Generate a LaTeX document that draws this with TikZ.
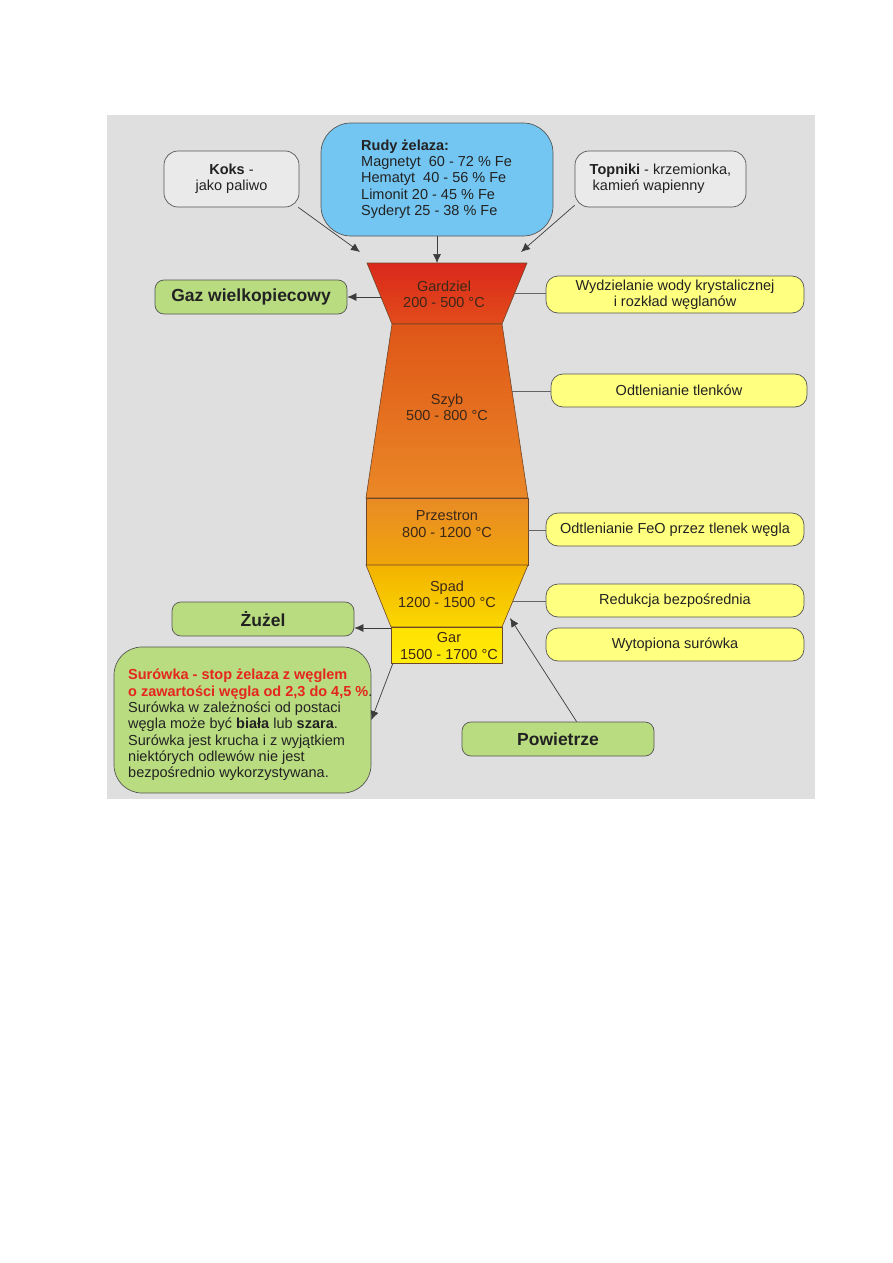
\documentclass[tikz,border=0pt]{standalone}
\usepackage{fontspec}
\setmainfont{Liberation Sans}
\usetikzlibrary{arrows.meta,calc}
\definecolor{bgc}{RGB}{223,223,223}
\definecolor{graybox}{RGB}{234,234,234}
\definecolor{bordc}{RGB}{85,85,85}
\definecolor{bluebox}{RGB}{116,198,242}
\definecolor{greenbox}{RGB}{185,220,128}
\definecolor{yellowbox}{RGB}{255,255,128}
\definecolor{redtxt}{RGB}{228,38,30}
\definecolor{txtc}{RGB}{34,34,34}
\definecolor{furntxt}{RGB}{60,40,25}
\definecolor{furnline}{RGB}{110,70,40}
\definecolor{arrc}{RGB}{60,60,60}
\definecolor{connc}{RGB}{100,100,100}
\newcommand\fsN{\fontsize{14.5}{16.3}\selectfont}
\newcommand\fsB{\fontsize{17.5}{20}\selectfont\bfseries}
\tikzset{
  basebox/.style={draw=bordc, line width=0.7pt, inner sep=0pt, align=center, text=txtc},
  graybx/.style={basebox, fill=graybox, rounded corners=14pt, font=\fsN},
  bluebx/.style={basebox, fill=bluebox, rounded corners=30pt},
  greenbx/.style={basebox, fill=greenbox, rounded corners=9pt, font=\fsB},
  yellowbx/.style={basebox, fill=yellowbox, rounded corners=12pt, font=\fsN},
  furnpart/.style={draw=furnline, line width=0.6pt},
  furnlbl/.style={align=center, font=\fsN, text=furntxt, inner sep=0pt},
  arr/.style={draw=arrc, line width=0.7pt, -{Latex[length=9pt,width=8pt]}},
  conn/.style={draw=connc, line width=0.9pt},
  plaintxt/.style={anchor=north west, inner sep=0pt, align=left, font=\fsN, text=txtc}
}
\begin{document}
\begin{tikzpicture}[x=1pt,y=-1pt]
\useasboundingbox (0,0) rectangle (893,1263);
\fill[white] (0,0) rectangle (893,1263);
\fill[bgc] (107,115) rectangle (815,799);

% furnace
\draw[furnpart, top color={rgb,255:red,218;green,40;blue,28}, bottom color={rgb,255:red,226;green,76;blue,26}]
  (367,263) -- (527,263) -- (502,324) -- (392,324) -- cycle;
\draw[furnpart, top color={rgb,255:red,223;green,86;blue,24}, bottom color={rgb,255:red,234;green,136;blue,38}]
  (392,324) -- (502,324) -- (528,498) -- (366,498) -- cycle;
\draw[furnpart, top color={rgb,255:red,233;green,138;blue,38}, bottom color={rgb,255:red,240;green,166;blue,10}]
  (366,498) -- (528,498) -- (528,565) -- (366,565) -- cycle;
\draw[furnpart, top color={rgb,255:red,243;green,178;blue,0}, bottom color={rgb,255:red,251;green,216;blue,0}]
  (366,565) -- (528,565) -- (502,627) -- (391,627) -- cycle;
\draw[furnpart, top color={rgb,255:red,255;green,226;blue,0}, bottom color={rgb,255:red,255;green,236;blue,10}]
  (391,627) rectangle (502,663);

\node[furnlbl] (gardziel) at (444,294) {Gardziel\\200 - 500 °C};
\node[furnlbl] (szyb) at (447,407) {Szyb\\500 - 800 °C};
\node[furnlbl] (przestron) at (447,524) {Przestron\\800 - 1200 °C};
\node[furnlbl] (spad) at (447,594) {Spad\\1200 - 1500 °C};
\node[furnlbl] (gar) at (449,646) {Gar\\1500 - 1700 °C};

% top boxes
\node[graybx, minimum width=135pt, minimum height=56pt] (koks) at (231.5,179) {\textbf{Koks} -\\jako paliwo};
\node[bluebx, minimum width=232pt, minimum height=113pt] (rudy) at (437,179.5) {};
\node[plaintxt] (rudytxt) at (361,139.5) {\textbf{Rudy żelaza:}\\Magnetyt\ \ 60 - 72 \% Fe\\Hematyt\ \ 40 - 56 \% Fe\\Limonit 20 - 45 \% Fe\\Syderyt 25 - 38 \% Fe};
\node[graybx, minimum width=171pt, minimum height=56pt, align=left] (topniki) at (660.5,179) {\textbf{Topniki} - krzemionka,\\\hspace{3pt}kamień wapienny};

% left boxes
\node[greenbx, minimum width=192pt, minimum height=34pt] (gaz) at (251,297) {Gaz wielkopiecowy};
\node[greenbx, minimum width=182pt, minimum height=34pt] (zuzel) at (263,619) {Żużel};
\node[basebox, fill=greenbox, rounded corners=28pt, minimum width=257pt, minimum height=146pt] (surowka) at (242.5,720) {};
\node[plaintxt] (surowkatxt) at (128,669) {\textcolor{redtxt}{\textbf{Surówka - stop żelaza z węglem}}\\\textcolor{redtxt}{\textbf{o zawartości węgla od 2,3 do 4,5 \%}}.\\Surówka w zależności od postaci\\węgla może być \textbf{biała} lub \textbf{szara}.\\Surówka jest krucha i z wyjątkiem\\niektórych odlewów nie jest\\bezpośrednio wykorzystywana.};
\node[greenbx, minimum width=192pt, minimum height=34pt] (powietrze) at (558,739) {Powietrze};

% right boxes
\node[yellowbx, minimum width=258pt, minimum height=37pt] (wydz) at (675,294.5) {Wydzielanie wody krystalicznej\\i rozkład węglanów};
\node[yellowbx, minimum width=256pt, minimum height=33pt] (odtl) at (679,390.5) {Odtlenianie tlenków};
\node[yellowbx, minimum width=258pt, minimum height=33pt] (feo) at (675,529.5) {Odtlenianie FeO przez tlenek węgla};
\node[yellowbx, minimum width=258pt, minimum height=33pt] (redu) at (675,600.5) {Redukcja bezpośrednia};
\node[yellowbx, minimum width=258pt, minimum height=33pt] (wyt) at (675,644.5) {Wytopiona surówka};

% connector points on the furnace
\coordinate (kin) at (360,252);
\coordinate (tin) at (521,252);
\coordinate (gtop) at (437,263);
\coordinate (gl) at (381,297);
\coordinate (garTL) at (391,628);
\coordinate (garBL) at (393,663);
\coordinate (airin) at (510,618);
\coordinate (gr) at (515,293);
\coordinate (sr) at (512,391);
\coordinate (pr) at (528,530);
\coordinate (spr) at (513,601);

% arrows
\draw[arr] (koks.-23) -- (kin);
\draw[arr] (rudy.south) -- (gtop);
\draw[arr] (topniki.197) -- (tin);
\draw[arr] (gl) -- (gaz.east);
\draw[arr] (garTL) -- (garTL -| zuzel.east);
\draw[arr] (garBL) -- (surowka.east);
\draw[arr] (powietrze.43) -- (airin);

% plain connectors
\draw[conn] (gr) -- (gr -| wydz.west);
\draw[conn] (sr) -- (sr -| odtl.west);
\draw[conn] (pr) -- (pr -| feo.west);
\draw[conn] (spr) -- (spr -| redu.west);
\end{tikzpicture}
\end{document}
